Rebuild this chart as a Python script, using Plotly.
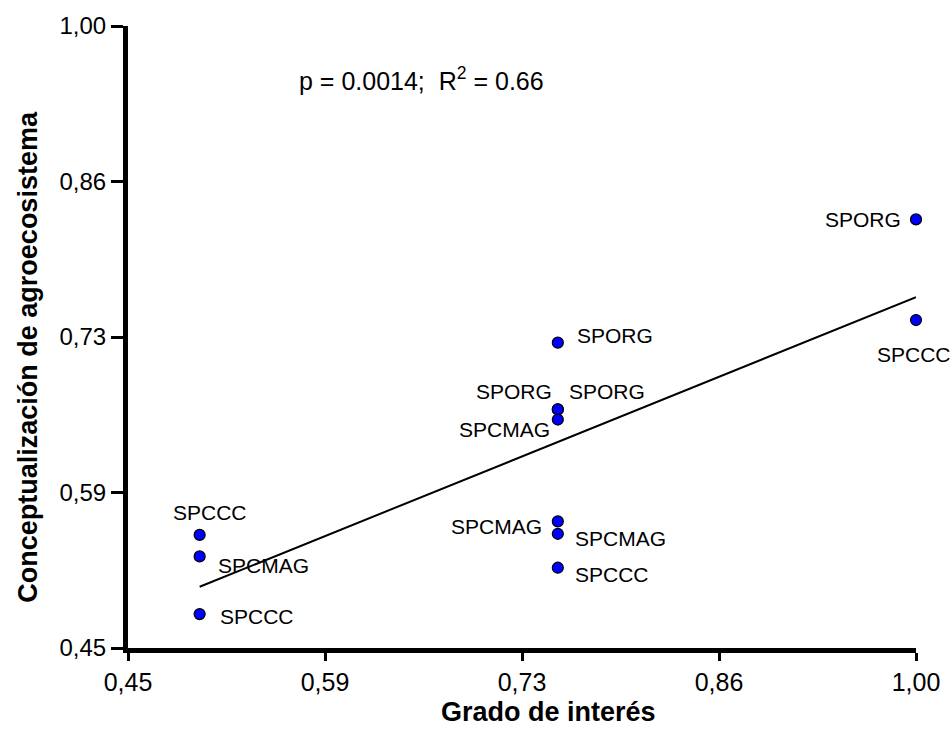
import numpy as np
import plotly.graph_objects as go

# Data: interest level (x) vs. agroecosystem conceptualisation (y) per producer group
grado_interes = [0.50, 0.50, 0.50,
                 0.75, 0.75, 0.75, 0.75, 0.75, 0.75, 0.75,
                 1.00, 1.00]
conceptualizacion = [0.550, 0.531, 0.480,
                     0.720, 0.661, 0.661, 0.652, 0.562, 0.551, 0.521,
                     0.829, 0.740]
grupos = ["SPCCC", "SPCMAG", "SPCCC",
          "SPORG", "SPORG", "SPORG", "SPCMAG", "SPCMAG", "SPCMAG", "SPCCC",
          "SPORG", "SPCCC"]

tick_vals = [0.45, 0.5875, 0.725, 0.8625, 1.00]
tick_text = ["0,45", "0,59", "0,73", "0,86", "1,00"]

# Label placement around each point: (xanchor, xshift px, yshift px)
label_place = [("center", 10, 22), ("left", 16, -9), ("left", 18, -2),
               ("left", 17, 7), ("right", -4, 18), ("left", 9, 18),
               ("right", -6, -10), ("right", -14, -5), ("left", 15, -5),
               ("left", 15, -7),
               ("right", -13, 0), ("center", -2, -34)]

FONT = "Liberation Sans, Arial, sans-serif"

# Least-squares fit line over the observed x range
slope, intercept = np.polyfit(grado_interes, conceptualizacion, 1)
fit_x = [min(grado_interes), max(grado_interes)]
fit_y = [slope * v + intercept for v in fit_x]

fig = go.Figure()
fig.add_trace(go.Scatter(
    x=fit_x, y=fit_y, mode="lines",
    line=dict(color="black", width=2),
    hoverinfo="skip", showlegend=False, cliponaxis=False,
))
fig.add_trace(go.Scatter(
    x=grado_interes, y=conceptualizacion, mode="markers",
    marker=dict(color="#0000ff", size=11, line=dict(color="black", width=1.2)),
    text=grupos, showlegend=False, cliponaxis=False,
))

annotations = []
for xv, yv, name, (anchor, dx, dy) in zip(grado_interes, conceptualizacion, grupos, label_place):
    annotations.append(dict(
        x=xv, y=yv, xref="x", yref="y", text=name, showarrow=False,
        xanchor=anchor, yanchor="middle", xshift=dx, yshift=dy,
        font=dict(family=FONT, size=21, color="black"),
    ))

annotations.append(dict(
    x=0.6547, y=0.953, xref="x", yref="y",
    text="p = 0.0014;\u00a0\u00a0R<sup>2</sup> = 0.66", showarrow=False,
    xanchor="center", yanchor="middle",
    font=dict(family=FONT, size=25, color="black"),
))
annotations.append(dict(
    x=-0.1266, y=0.4687, xref="paper", yref="paper",
    text="<b>Conceptualización de agroecosistema</b>", showarrow=False,
    textangle=-90, xanchor="center", yanchor="middle",
    font=dict(family=FONT, size=27, color="black"),
))
annotations.append(dict(
    x=0.533, y=-0.1027, xref="paper", yref="paper",
    text="<b>Grado de interés</b>", showarrow=False,
    xanchor="center", yanchor="middle",
    font=dict(family=FONT, size=27, color="black"),
))

axis_common = dict(
    showline=True, linecolor="black", linewidth=5, mirror=False,
    showgrid=False, zeroline=False,
    ticks="outside", tickcolor="black", tickwidth=3,
    tickvals=tick_vals, ticktext=tick_text, range=[0.45, 1.00],
)

fig.update_layout(
    width=952, height=738,
    margin=dict(l=128, r=34, t=25, b=90),
    paper_bgcolor="white", plot_bgcolor="white",
    xaxis=dict(**axis_common, ticklen=8,
               tickfont=dict(family=FONT, size=25, color="black")),
    yaxis=dict(**axis_common, ticklen=12,
               tickfont=dict(family=FONT, size=24, color="black")),
    annotations=annotations,
    showlegend=False,
)

fig.write_html("out.html")
